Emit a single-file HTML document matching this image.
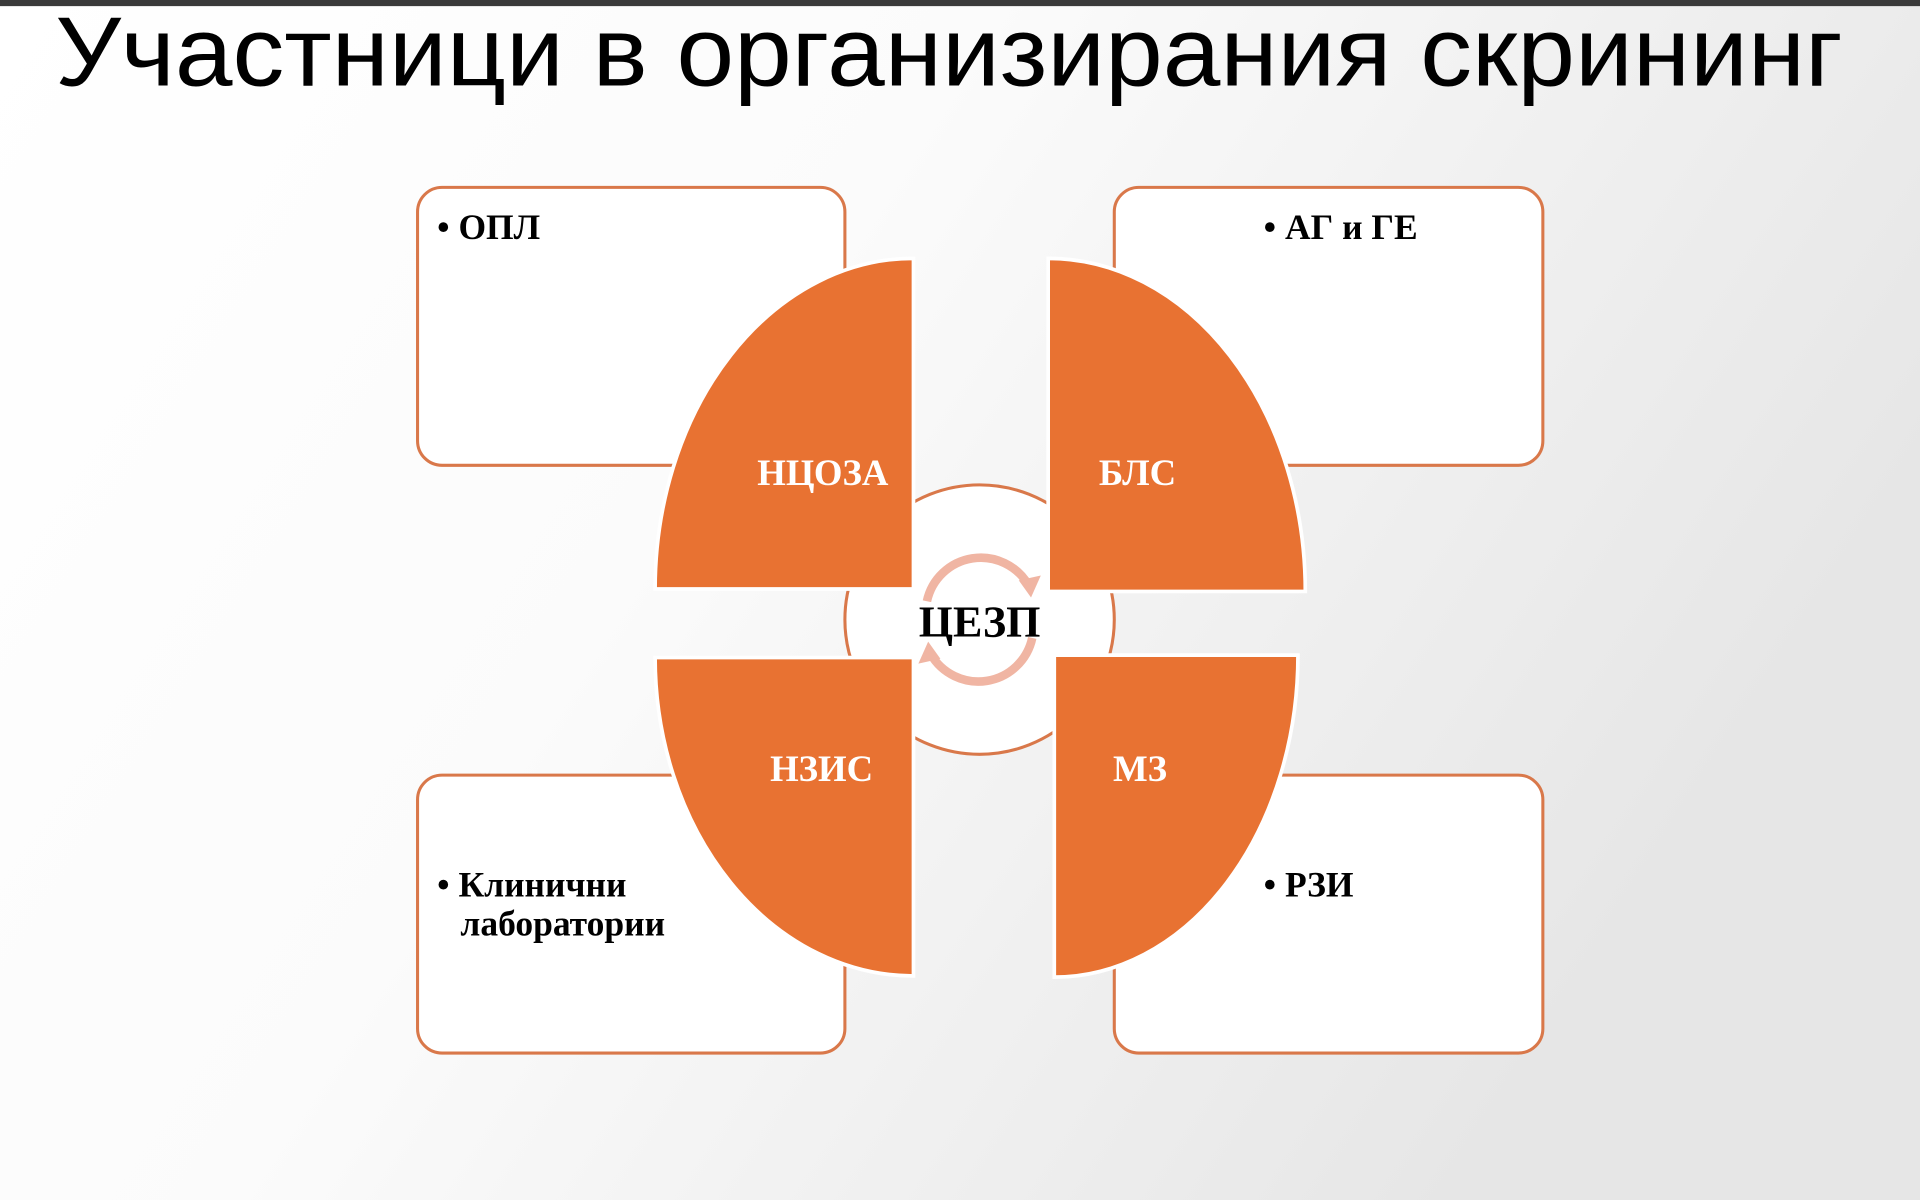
<!DOCTYPE html>
<html><head><meta charset="utf-8"><style>
html,body{margin:0;padding:0;width:1920px;height:1200px;overflow:hidden;background:#fff}
svg{display:block}
</style></head><body>
<svg width="1920" height="1200" viewBox="0 0 1568 980" xmlns="http://www.w3.org/2000/svg">
<defs>
<linearGradient id="bg" x1="0" y1="0" x2="1" y2="0.4">
<stop offset="0" stop-color="#ffffff"/><stop offset="0.45" stop-color="#fbfbfb"/><stop offset="1" stop-color="#e6e6e6"/>
</linearGradient>
</defs>
<rect width="1568" height="980" fill="url(#bg)"/>
<rect width="1568" height="5" fill="#3a3a3a"/>
<text x="45" y="70" font-family="Liberation Sans, sans-serif" font-size="80" textLength="1460" lengthAdjust="spacingAndGlyphs" fill="#000">Участници в  организирания скрининг</text>

<g fill="#fff" stroke="#D9784A" stroke-width="2.5">
<rect x="341" y="153" width="349" height="227" rx="20"/>
<rect x="910" y="153" width="350" height="227" rx="20"/>
<rect x="341" y="633" width="349" height="227" rx="20"/>
<rect x="910" y="633" width="350" height="227" rx="20"/>
</g>
<circle cx="800" cy="506" r="110" fill="#fff" stroke="#D9784A" stroke-width="2.5"/>

<g fill="#E87232" stroke="#fff" stroke-width="3">
<path d="M746,211 L746,481 L535,481 A211,270 0 0 1 746,211 Z"/>
<path d="M856,211 L856,483 L1066,483 A210,272 0 0 0 856,211 Z"/>
<path d="M746,797 L746,537 L535,537 A211,260 0 0 0 746,797 Z"/>
<path d="M861,798 L861,535 L1060,535 A199,263 0 0 1 861,798 Z"/>
</g>

<g fill="none" stroke="#F0B5A3" stroke-width="7">
<path d="M757,491 A45,45 0 0 1 840,478"/>
<path d="M843,521 A45,45 0 0 1 760,534"/>
</g>
<g fill="#F0B5A3">
<polygon points="832,474 850,470 842,488"/>
<polygon points="768,538 750,542 758,524"/>
</g>

<g font-family="Liberation Serif, serif" font-weight="bold">
<text x="800" y="520" font-size="36" text-anchor="middle" fill="#000">ЦЕЗП</text>
<g font-size="30" fill="#fff" text-anchor="middle">
<text x="672" y="396">НЦОЗА</text>
<text x="929" y="396">БЛС</text>
<text x="671" y="638">НЗИС</text>
<text x="931" y="638">МЗ</text>
</g>
<g font-size="29" fill="#000">
<text x="357" y="195">• ОПЛ</text>
<text x="1032" y="195">• АГ и ГЕ</text>
<text x="357" y="732">• Клинични</text>
<text x="376" y="764">лаборатории</text>
<text x="1032" y="732">• РЗИ</text>
</g>
</g>
</svg>
</body></html>
